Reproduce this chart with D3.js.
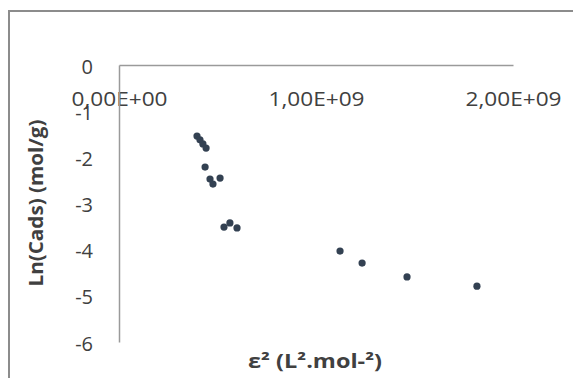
<!DOCTYPE html>
<html>
<head>
<meta charset="utf-8">
<script src="https://cdn.jsdelivr.net/npm/d3@7"></script>
<style>
  html, body { margin: 0; padding: 0; background: #fff; }
  svg { display: block; }
  text { font-family: "Open Sans", "DejaVu Sans", sans-serif; fill: #404040; }
</style>
</head>
<body>
<svg id="chart" width="573" height="378"></svg>
<script>
// Dubinin–Radushkevich plot: ln(Cads) against ε²
const epsSquared = [
  0.396e9, 0.411e9, 0.426e9, 0.442e9,
  0.437e9, 0.462e9, 0.477e9, 0.513e9,
  0.533e9, 0.563e9, 0.599e9,
  1.122e9, 1.234e9, 1.462e9, 1.817e9
];
const lnCads = [
  -1.54, -1.62, -1.71, -1.80,
  -2.21, -2.47, -2.58, -2.45,
  -3.51, -3.42, -3.53,
  -4.03, -4.29, -4.59, -4.79
];
const xTicks = [0, 1e9, 2e9];
const xTickLabels = ["0,00E+00", "1,00E+09", "2,00E+09"];
const yTicks = [0, -1, -2, -3, -4, -5, -6];
const xTitle = "ε² (L².mol-²)";
const yTitle = "Ln(Cads) (mol/g)";

const svg = d3.select("#chart");

// outer chart frame
svg.append("rect")
  .attr("x", 9).attr("y", 11)
  .attr("width", 600).attr("height", 400)
  .attr("fill", "none").attr("stroke", "#8c8c8c").attr("stroke-width", 2);

const x = d3.scaleLinear().domain([0, 2e9]).range([119, 513]);
const y = d3.scaleLinear().domain([-6, 0]).range([342, 65]);

// x axis sits on y = 0 at the top of the plot
const xAxis = svg.append("g")
  .attr("transform", `translate(0,${y(0)})`)
  .call(d3.axisBottom(x).tickValues(xTicks).tickSize(0)
    .tickFormat((d, i) => xTickLabels[i]));
xAxis.select(".domain").attr("stroke", "#9a9a9a").attr("stroke-width", 1.5);
xAxis.selectAll("text").attr("y", 34).attr("dy", "0.35em")
  .style("font-size", "20px").attr("fill", "#404040")
  .attr("textLength", 96).attr("lengthAdjust", "spacingAndGlyphs");

// y axis; labels use a plain hyphen for the minus sign
const yAxis = svg.append("g")
  .attr("transform", `translate(${x(0)},0)`)
  .call(d3.axisLeft(y).tickValues(yTicks).tickSize(0).tickFormat(d => String(d)));
yAxis.select(".domain").attr("stroke", "#9a9a9a").attr("stroke-width", 1.5);
yAxis.selectAll("text").attr("x", -26).attr("dy", "0.4em")
  .style("font-size", "20px").attr("fill", "#404040");

// data points
svg.append("g")
  .selectAll("circle")
  .data(epsSquared.map((e, i) => [e, lnCads[i]]))
  .join("circle")
  .attr("cx", d => x(d[0]))
  .attr("cy", d => y(d[1]))
  .attr("r", 3.6)
  .attr("fill", "#334152");

// axis titles
svg.append("text")
  .attr("x", 315).attr("y", 368)
  .attr("text-anchor", "middle")
  .style("font-size", "19px").style("font-weight", "bold")
  .attr("textLength", 134).attr("lengthAdjust", "spacingAndGlyphs")
  .text(xTitle);

svg.append("text")
  .attr("transform", "translate(43,203) rotate(-90)")
  .attr("text-anchor", "middle")
  .style("font-size", "19px").style("font-weight", "bold")
  .attr("textLength", 167).attr("lengthAdjust", "spacingAndGlyphs")
  .text(yTitle);
</script>
</body>
</html>
